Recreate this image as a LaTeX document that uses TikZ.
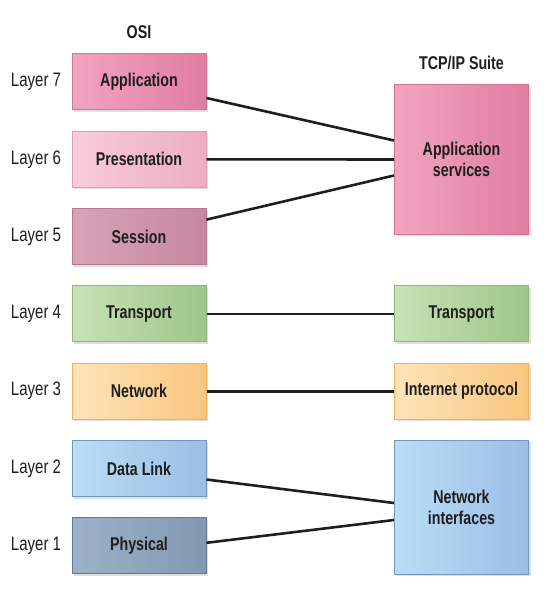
\documentclass[tikz,border=0pt]{standalone}
\usepackage{fontspec}
\setmainfont[FakeStretch=0.77]{Liberation Sans}
\usetikzlibrary{positioning,shadows}

\definecolor{appL}{HTML}{F2A4C0}
\definecolor{appR}{HTML}{E07DA1}
\definecolor{appD}{HTML}{D27496}
\definecolor{preL}{HTML}{F9CCDA}
\definecolor{preR}{HTML}{ECADC3}
\definecolor{preD}{HTML}{E29DB4}
\definecolor{sesL}{HTML}{D8A3B7}
\definecolor{sesR}{HTML}{C6889F}
\definecolor{sesD}{HTML}{B47890}
\definecolor{traL}{HTML}{C8E2B6}
\definecolor{traR}{HTML}{9EC689}
\definecolor{traD}{HTML}{8DB87A}
\definecolor{netL}{HTML}{FEE4BA}
\definecolor{netR}{HTML}{F9C67E}
\definecolor{netD}{HTML}{F0AE5E}
\definecolor{dlkL}{HTML}{B9DEF6}
\definecolor{dlkR}{HTML}{9CBDE6}
\definecolor{dlkD}{HTML}{7297BC}
\definecolor{phyL}{HTML}{9DB2C7}
\definecolor{phyR}{HTML}{8399B3}
\definecolor{phyD}{HTML}{607B97}
\definecolor{ink}{HTML}{1E1E1E}

\tikzset{
  layerbox/.style={draw, line width=1pt, minimum width=134pt, minimum height=56pt,
    align=center, font=\fontsize{18.5}{21}\selectfont\bfseries, text=ink,
    drop shadow={opacity=0.25, shadow xshift=2pt, shadow yshift=-2pt}},
  layername/.style={font=\fontsize{19.5}{21}\selectfont, text=ink},
  link/.style={line width=2.6pt, ink}
}

\begin{document}
\begin{tikzpicture}[x=1pt, y=-1pt]
\useasboundingbox (0,0) rectangle (547,591);
\def\xl{36}
\def\xa{139}
\def\xb{461.5}

\def\dy{77.3}
\def\ya{82}
\def\yb{\ya + \dy}
\def\yc{\ya + 2 * \dy}
\def\yd{\ya + 3 * \dy}
\def\ye{\ya + 4 * \dy}
\def\yf{\ya + 5 * \dy}
\def\yg{\ya + 6 * \dy}

\node[font=\fontsize{18.5}{21}\selectfont\bfseries, text=ink] (osi) at (\xa, 32) {OSI};
\node[font=\fontsize{18.5}{21}\selectfont\bfseries, text=ink] (tcpip) at (\xb, 63) {TCP/IP Suite};

\node[layerbox, draw=appD, left color=appL, right color=appR] (app) at (\xa, \ya) {Application};
\node[layerbox, draw=preD, left color=preL, right color=preR] (pre) at (\xa, \yb) {Presentation};
\node[layerbox, draw=sesD, left color=sesL, right color=sesR] (ses) at (\xa, \yc) {Session};
\node[layerbox, draw=traD, left color=traL, right color=traR] (tra) at (\xa, \yd) {Transport};
\node[layerbox, draw=netD, left color=netL, right color=netR] (net) at (\xa, \ye) {Network};
\node[layerbox, draw=dlkD, left color=dlkL, right color=dlkR] (dlk) at (\xa, \yf) {Data Link};
\node[layerbox, draw=phyD, left color=phyL, right color=phyR] (phy) at (\xa, \yg) {Physical};

\node[layername] (l7) at (\xl, \ya) {Layer 7};
\node[layername] (l6) at (\xl, \yb) {Layer 6};
\node[layername] (l5) at (\xl, \yc) {Layer 5};
\node[layername] (l4) at (\xl, \yd) {Layer 4};
\node[layername] (l3) at (\xl, \ye) {Layer 3};
\node[layername] (l2) at (\xl, \yf) {Layer 2};
\node[layername] (l1) at (\xl, \yg) {Layer 1};

\node[layerbox, draw=appD, left color=appL, right color=appR, minimum height=149pt] (appsvc) at (\xb, 159.5) {Application\\services};
\node[layerbox, draw=traD, left color=traL, right color=traR] (tra2) at (\xb, \yd) {Transport};
\node[layerbox, draw=netD, left color=netL, right color=netR] (ip) at (\xb, \ye) {Internet protocol};
\node[layerbox, draw=dlkD, left color=dlkL, right color=dlkR, minimum height=134pt] (netif) at (\xb, 507) {Network\\interfaces};

\draw[link] ([yshift=-16pt]app.east) -- ([yshift=19pt]appsvc.west);
\draw[link] (pre.east) -- (appsvc.west);
\draw[link] ([yshift=17pt]ses.east) -- ([yshift=-16pt]appsvc.west);
\draw[link] (tra) -- (tra2);
\draw[link] (net) -- (ip);
\draw[link] ([yshift=-11pt]dlk.east) -- ([yshift=4pt]netif.west);
\draw[link] ([yshift=3pt]phy.east) -- ([yshift=-13pt]netif.west);
\end{tikzpicture}
\end{document}
